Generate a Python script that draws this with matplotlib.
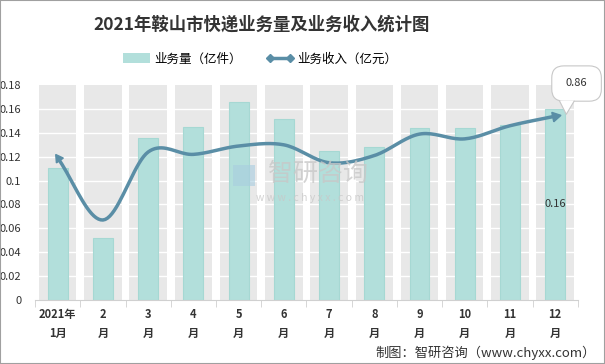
import numpy as np
import matplotlib
matplotlib.use("Agg")
import matplotlib.pyplot as plt
from matplotlib.patches import Rectangle, FancyBboxPatch, Polygon
from matplotlib.lines import Line2D

plt.rcParams['font.family'] = ['Noto Sans CJK SC', 'DejaVu Sans']

months = ["2021年\n1月", "2\n月", "3\n月", "4\n月", "5\n月", "6\n月",
          "7\n月", "8\n月", "9\n月", "10\n月", "11\n月", "12\n月"]
volume = [0.111, 0.052, 0.136, 0.145, 0.166, 0.152, 0.125, 0.128, 0.144, 0.144, 0.147, 0.160]
income = [0.119, 0.067, 0.124, 0.122, 0.129, 0.130, 0.115, 0.121, 0.139, 0.135, 0.146, 0.154]
y_ticks = [0, 0.02, 0.04, 0.06, 0.08, 0.1, 0.12, 0.14, 0.16, 0.18]
y_labels = ["0", "0.02", "0.04", "0.06", "0.08", "0.1", "0.12", "0.14", "0.16", "0.18"]

bar_color = "#b2dfdb"
line_color = "#5a8ea6"


def smooth(xs, ys, n=20):
    # catmull-rom curve through the points, for drawing only
    xs = np.asarray(xs, float)
    ys = np.asarray(ys, float)
    px = np.concatenate([[2 * xs[0] - xs[1]], xs, [2 * xs[-1] - xs[-2]]])
    py = np.concatenate([[2 * ys[0] - ys[1]], ys, [2 * ys[-1] - ys[-2]]])
    ox, oy = [], []
    t = np.linspace(0, 1, n, endpoint=False)
    for i in range(1, len(px) - 2):
        for arr, out in ((px, ox), (py, oy)):
            p0, p1, p2, p3 = arr[i - 1], arr[i], arr[i + 1], arr[i + 2]
            out.extend(0.5 * (2 * p1 + (-p0 + p2) * t + (2 * p0 - 5 * p1 + 4 * p2 - p3) * t ** 2
                              + (-p0 + 3 * p1 - 3 * p2 + p3) * t ** 3))
    ox.append(xs[-1])
    oy.append(ys[-1])
    return np.array(ox), np.array(oy)


fig = plt.figure(figsize=(6.05, 3.64), dpi=100)
fig.patches.append(Rectangle((0, 0), 1, 1, transform=fig.transFigure, fill=False,
                             edgecolor="#a0a0a0", linewidth=1.5))
ax = fig.add_axes([0.058, 0.176, 0.897, 0.590])

x = np.arange(len(months))
ax.set_xlim(-0.5, len(months) - 0.5)
ax.set_ylim(0, 0.18)

for xi in x:
    ax.axvspan(xi - 0.415, xi + 0.415, color="#e8e8e8", zorder=0, lw=0)
for yv in y_ticks[1:-1]:
    ax.axhline(yv, color="white", lw=1, zorder=1)

ax.bar(x, volume, width=0.44, color=bar_color, edgecolor="#a6d8d3", lw=0.8, zorder=2)

sx, sy = smooth(x, income)
ax.plot(sx, sy, color=line_color, lw=2.5, zorder=3, solid_capstyle="round")

# arrow heads at both ends, turned along the curve
pts = ax.transData.transform(np.column_stack([sx, sy]))
for a, b, size in ((1, 0, 7), (-2, -1, 8)):
    dx, dy = pts[b] - pts[a]
    ang = np.degrees(np.arctan2(dy, dx)) - 90
    ax.plot(sx[b], sy[b], marker=(3, 0, ang), markersize=size, color=line_color, zorder=4,
            clip_on=False)

# callout for the last point
box = FancyBboxPatch((0.912, 0.722), 0.082, 0.097, transform=fig.transFigure,
                     boxstyle="round,pad=0,rounding_size=0.02", fc="white", ec="#c8c8c8",
                     lw=0.8, zorder=5, mutation_aspect=1.66)
fig.patches.append(box)
tri = [(0.925, 0.7235), (0.949, 0.7235), (0.936, 0.686)]
fig.patches.append(Polygon(tri, closed=True, transform=fig.transFigure, fc="white",
                           ec="none", zorder=6))
fig.lines.append(Line2D([0.925, 0.936, 0.949], [0.722, 0.686, 0.722],
                        transform=fig.transFigure, color="#c8c8c8", lw=0.8, zorder=7))
fig.text(0.953, 0.771, "0.86", ha="center", va="center", fontsize=8, color="#333333", zorder=8)

ax.text(x[-1], 0.08, f"{volume[-1]:.2f}", ha="center", va="center", fontsize=8, color="#333333", zorder=5)

ax.set_yticks(y_ticks)
ax.set_yticklabels(y_labels, fontsize=8, color="#333333")
ax.set_xticks(x)
ax.set_xticklabels(months, fontsize=8, fontweight="bold", color="#333333", linespacing=1.6)
ax.set_xticks(np.arange(-0.5, len(months)), minor=True)
ax.tick_params(axis="x", which="major", length=0, pad=6)
ax.tick_params(axis="x", which="minor", length=5, color="#d0d0d0")
ax.tick_params(axis="y", length=0, pad=10)
for s in ["top", "right", "left"]:
    ax.spines[s].set_visible(False)
ax.spines["bottom"].set_color("#d0d0d0")

fig.text(0.432, 0.932, "2021年鞍山市快递业务量及业务收入统计图", ha="center", va="center",
         fontsize=12.5, fontweight="bold", color="#333333")

handles = [Rectangle((0, 0), 1, 1, fc=bar_color, ec="none"),
           Line2D([], [], color=line_color, lw=2.5, marker="D", markersize=4)]
fig.legend(handles, ["业务量（亿件）", "业务收入（亿元）"], loc="center",
           bbox_to_anchor=(0.43, 0.838), ncol=2, frameon=False, fontsize=9, numpoints=2,
           handlelength=2.2, handleheight=0.9, columnspacing=2.0, handletextpad=0.3)

# watermark
fig.patches.append(Rectangle((0.385, 0.488), 0.036, 0.058, transform=fig.transFigure,
                             fc="#a8cde0", ec="none", alpha=0.6, zorder=10))
fig.text(0.525, 0.522, "智研咨询", ha="center", va="center", fontsize=18, color="#c8c8c8",
         alpha=0.8, zorder=10)
fig.text(0.512, 0.455, "w w w . c h y x x . c o m", ha="center", va="center", fontsize=7.5,
         color="#c8c8c8", alpha=0.8, zorder=10)

fig.text(0.985, 0.032, "制图：智研咨询（www.chyxx.com）", ha="right", va="center",
         fontsize=9.5, color="#333333")

fig.savefig("out.png", dpi=100)
